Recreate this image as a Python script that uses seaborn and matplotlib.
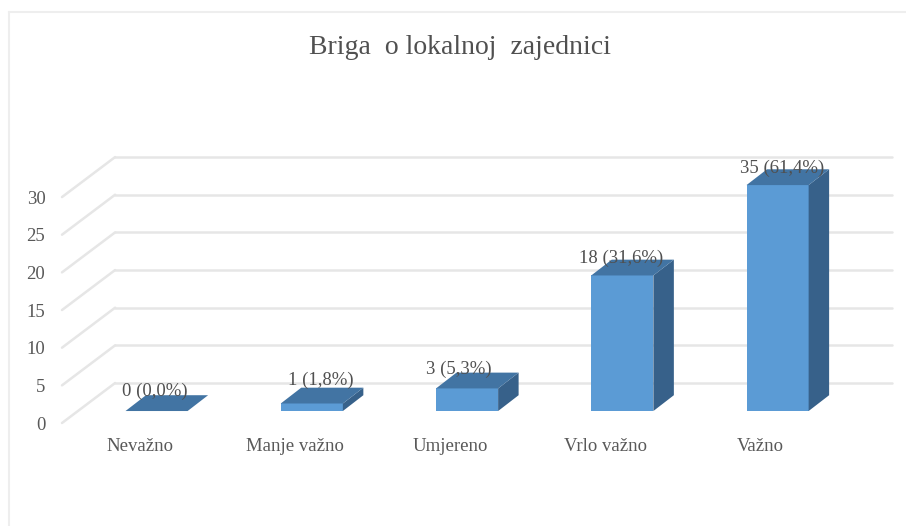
import pandas as pd
import matplotlib.pyplot as plt
import seaborn as sns
from matplotlib.lines import Line2D
from matplotlib.patches import Polygon

categories = ['Nevažno', 'Manje važno', 'Umjereno', 'Vrlo važno', 'Važno']
values = [0, 1, 3, 18, 35]
value_labels = ['0 (0,0%)', '1 (1,8%)', '3 (5,3%)', '18 (31,6%)', '35 (61,4%)']
y_ticks = [0, 5, 10, 15, 20, 25, 30]

AXIS_MAX = 30
W, H = 906, 526
TEXT = '#595959'
GRID = '#e6e6e6'

sns.set_theme(style='white')
plt.rcParams['font.family'] = ['Liberation Serif', 'DejaVu Serif']

df = pd.DataFrame({'kategorija': categories, 'n': values})
# Excel cuts the bar off at the axis maximum, the label keeps the real value
df['n_crtano'] = df['n'].clip(upper=AXIS_MAX)

fig = plt.figure(figsize=(W / 100, H / 100), dpi=100)
ax = fig.add_axes([62 / W, 1 - 423 / H, (892 - 62) / W, (423 - 157) / H])

sns.barplot(data=df, x='kategorija', y='n_crtano', color='#5b9bd5', saturation=1,
            width=0.4, linewidth=0, ax=ax, zorder=3)

ax.set_xlim(-0.609, 4.737)
ax.set_ylim(-1.59, 33.73)

# fake 3D: wall depth and bar depth in data units
wall_x, wall_y = -0.267, 3.72
front_y = -1.59
depth_x, depth_y = 0.132, 2.1

for v in y_ticks:
    ax.plot([ax.get_xlim()[0], wall_x], [v + front_y, v + wall_y],
            color=GRID, lw=1.8, zorder=1, clip_on=False)
    ax.plot([wall_x, ax.get_xlim()[1]], [v + wall_y, v + wall_y],
            color=GRID, lw=1.8, zorder=1, clip_on=False)

for bar in list(ax.patches):
    x0, x1 = bar.get_x(), bar.get_x() + bar.get_width()
    top = bar.get_height()
    ax.add_patch(Polygon([(x1, 0), (x1 + depth_x, depth_y), (x1 + depth_x, top + depth_y), (x1, top)],
                         facecolor='#37618a', edgecolor='none', zorder=3))
    ax.add_patch(Polygon([(x0, top), (x0 + depth_x, top + depth_y), (x1 + depth_x, top + depth_y), (x1, top)],
                         facecolor='#4274a3', edgecolor='none', zorder=3))

# labels sit a little off the bar centre, as in the original
label_dx = [-1.5, 9, -8, -1, 5]
label_dy = [20, 23, 19, 17, 17]
for i, txt in enumerate(value_labels):
    ax.annotate(txt, (i, df['n_crtano'][i]), xytext=(label_dx[i] * 0.72, label_dy[i] * 0.72),
                textcoords='offset points', ha='center', va='center',
                fontsize=13.5, color='#505050', zorder=5)

ax.set_xticks([i - 0.11 for i in range(len(categories))])
ax.set_xticklabels(categories, fontsize=13.5, color=TEXT)
ax.set_yticks([v + front_y for v in y_ticks])
ax.set_yticklabels(y_ticks, fontsize=13.5, color=TEXT)
ax.tick_params(axis='x', length=0, pad=11)
ax.tick_params(axis='y', length=0, pad=12)
ax.set_xlabel('')
ax.set_ylabel('')
sns.despine(ax=ax, left=True, bottom=True)

fig.text(460 / W, 1 - 47 / H, 'Briga  o lokalnoj  zajednici', ha='center', va='center',
         fontsize=20, color='#505050')

# chart frame, left and top only show in the screenshot
fig.add_artist(Line2D([9 / W, 9 / W], [0, 1 - 12 / H], color='#eeeeee', lw=1.5))
fig.add_artist(Line2D([9 / W, 1], [1 - 12 / H, 1 - 12 / H], color='#eeeeee', lw=1.5))

fig.savefig('out.png', dpi=100)
plt.close(fig)
